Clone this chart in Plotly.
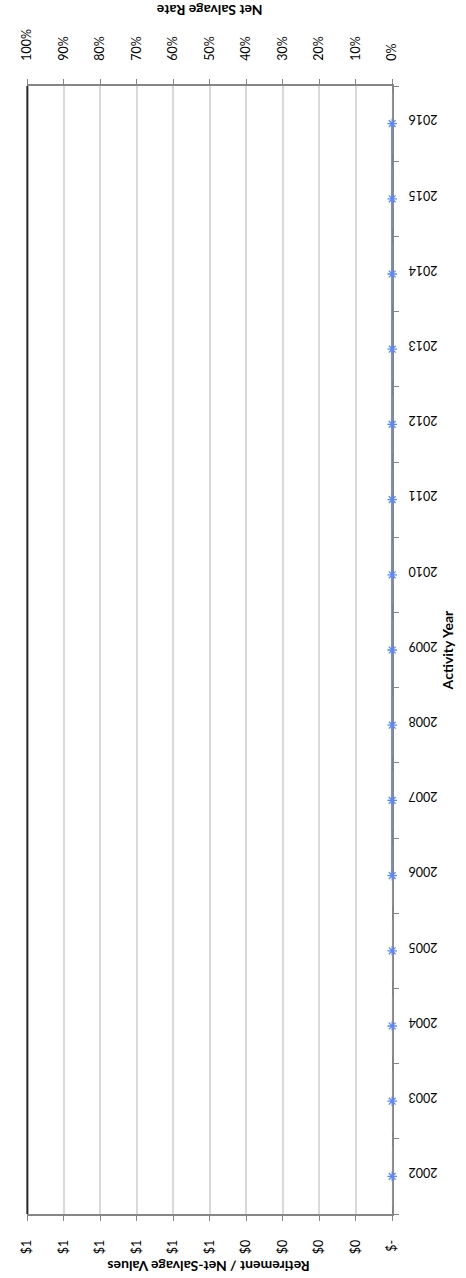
import plotly.graph_objects as go

# Activity years and the per-year series
years = [2002, 2003, 2004, 2005, 2006, 2007, 2008, 2009, 2010, 2011, 2012, 2013, 2014, 2015, 2016]
retirements = [0, 0, 0, 0, 0, 0, 0, 0, 0, 0, 0, 0, 0, 0, 0]
net_salvage = [0, 0, 0, 0, 0, 0, 0, 0, 0, 0, 0, 0, 0, 0, 0]
net_salvage_rate = [0, 0, 0, 0, 0, 0, 0, 0, 0, 0, 0, 0, 0, 0, 0]
avg_years = [2006, 2007, 2008, 2009, 2010, 2011, 2012, 2013, 2014, 2015, 2016]
five_year_avg_rate = [0, 0, 0, 0, 0, 0, 0, 0, 0, 0, 0]

# Axis tick labels
value_ticks = [0, 0.1, 0.2, 0.3, 0.4, 0.5, 0.6, 0.7, 0.8, 0.9, 1.0]
value_labels = ["$-", "$0", "$0", "$0", "$0", "$1", "$1", "$1", "$1", "$1", "$1"]
rate_ticks = [0, 0.1, 0.2, 0.3, 0.4, 0.5, 0.6, 0.7, 0.8, 0.9, 1.0]
rate_labels = ["0%", "10%", "20%", "30%", "40%", "50%", "60%", "70%", "80%", "90%", "100%"]

W, H = 466, 1278
left, right, top, bottom = 20, 397, 86, 1214
FONT = "Lato, 'Open Sans', sans-serif"
AXIS_GRAY = "#868686"
MARK_BLUE = "#5b86ff"

fig = go.Figure()

fig.add_trace(go.Bar(y=years, x=retirements, orientation="h", xaxis="x", yaxis="y",
                     marker_color="#4f81bd", showlegend=False))
fig.add_trace(go.Bar(y=years, x=net_salvage, orientation="h", xaxis="x", yaxis="y",
                     marker_color="#c0504d", showlegend=False))
fig.add_trace(go.Scatter(y=avg_years, x=five_year_avg_rate, mode="lines", xaxis="x2", yaxis="y",
                         line=dict(color="#4a74d9", width=2), cliponaxis=False, showlegend=False))
fig.add_trace(go.Scatter(y=years, x=net_salvage_rate, mode="markers", xaxis="x2", yaxis="y",
                         marker=dict(symbol="asterisk-open", size=8, color=MARK_BLUE,
                                     line=dict(color=MARK_BLUE, width=1.3)),
                         cliponaxis=False, showlegend=False))

xdom = [left / W, right / W]
ydom = [(H - bottom) / H, (H - top) / H]

tickfont = dict(family=FONT, size=12.5, color="#000000")

fig.update_layout(
    width=W, height=H,
    margin=dict(l=0, r=0, t=0, b=0),
    paper_bgcolor="white", plot_bgcolor="white",
    barmode="group",
    xaxis=dict(domain=xdom, range=[1, 0], tickvals=value_ticks, ticktext=value_labels,
               tickangle=-90, tickfont=tickfont, showgrid=True, gridcolor="#d9d9d9", gridwidth=1.5,
               zeroline=False, showline=True, linecolor=AXIS_GRAY, linewidth=1.5,
               ticks="outside", ticklen=5, tickcolor=AXIS_GRAY, ticklabelstandoff=14,
               anchor="y", side="bottom", layer="below traces"),
    xaxis2=dict(domain=xdom, range=[1, 0], tickvals=rate_ticks, ticktext=rate_labels,
                tickangle=-90, tickfont=tickfont, showgrid=False, zeroline=False,
                showline=True, linecolor=AXIS_GRAY, linewidth=1.5,
                ticks="outside", ticklen=5, tickcolor=AXIS_GRAY, ticklabelstandoff=16,
                overlaying="x", side="top", anchor="y", layer="below traces"),
    yaxis=dict(domain=ydom, range=[2001.5, 2016.5], tickvals=years, ticktext=[str(y) for y in years],
               tickangle=180, tickfont=tickfont, side="right", showgrid=False, zeroline=False,
               showline=True, linecolor=AXIS_GRAY, linewidth=1.5, ticks="", anchor="x",
               ticklabelstandoff=41, layer="below traces",
               minor=dict(tickvals=[y - 0.5 for y in years] + [2016.5], ticks="outside",
                          ticklen=5, tickcolor=AXIS_GRAY)),
)

# Dark border on the far side of the plot area
fig.add_shape(type="line", xref="paper", yref="paper", x0=xdom[0], x1=xdom[0], y0=ydom[0], y1=ydom[1],
              line=dict(color="#262626", width=2))

title_font = dict(family=FONT, size=14, color="#000000", weight="bold")
fig.add_annotation(text="Net Salvage Rate", xref="paper", yref="paper", x=208 / W, y=1 - 11 / H,
                   showarrow=False, textangle=180, font=title_font, xanchor="center", yanchor="middle")
fig.add_annotation(text="Retirement / Net-Salvage Values", xref="paper", yref="paper", x=207 / W,
                   y=1 - 1267 / H, showarrow=False, textangle=180, font=title_font,
                   xanchor="center", yanchor="middle")
fig.add_annotation(text="Activity Year", xref="paper", yref="paper", x=454 / W, y=1 - 650 / H,
                   showarrow=False, textangle=-90, font=title_font, xanchor="center", yanchor="middle")

fig.write_html("out.html")
